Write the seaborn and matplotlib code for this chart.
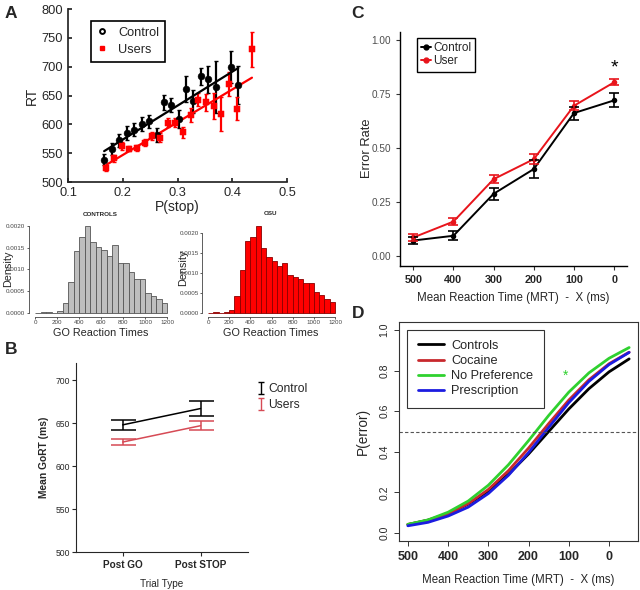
import numpy as np
import pandas as pd
import seaborn as sns
import matplotlib.pyplot as plt
from matplotlib.lines import Line2D

sns.set_theme(style="ticks")
plt.rcParams['font.family'] = ['Liberation Sans', 'DejaVu Sans']

# ---------------- data ----------------
# A: RT vs P(stop)
ctrl_pstop = [0.166, 0.180, 0.194, 0.207, 0.221, 0.235, 0.248, 0.262, 0.275, 0.289,
              0.302, 0.316, 0.329, 0.343, 0.356, 0.370, 0.397, 0.411]
ctrl_rt = [539, 557, 572, 585, 591, 601, 605, 582, 638, 633, 609, 661, 640, 683, 678, 664, 700, 669]
ctrl_err = [9, 10, 11, 12, 12, 12, 12, 12, 13, 12, 15, 22, 20, 15, 24, 45, 28, 33]
users_pstop = [0.170, 0.184, 0.198, 0.212, 0.226, 0.240, 0.254, 0.268, 0.282, 0.296,
               0.310, 0.324, 0.338, 0.352, 0.366, 0.380, 0.394, 0.408, 0.436]
users_rt = [524, 541, 562, 558, 559, 568, 579, 577, 603, 603, 586, 616, 643, 638, 632, 618, 670, 627, 730]
users_err = [5, 6, 7, 5, 5, 6, 7, 8, 8, 8, 10, 12, 12, 15, 23, 29, 20, 20, 30]

# A: GO RT histograms (density per 50 ms bin, 0..1200)
bin_edges = list(range(0, 1250, 50))
controls_density = [0, 0.00003, 0.00003, 0.00001, 0.00005, 0.00022, 0.00072, 0.00142,
                    0.00175, 0.00201, 0.00162, 0.00152, 0.00144, 0.00132, 0.00156, 0.00114,
                    0.00114, 0.00095, 0.00079, 0.00079, 0.00046, 0.00038, 0.00032, 0.00023]
osu_density = [0, 0.00002, 0.00001, 0.00002, 0.00008, 0.00043, 0.00108, 0.00179,
               0.00190, 0.00218, 0.00162, 0.00139, 0.00129, 0.00118, 0.00126, 0.00095,
               0.00091, 0.00084, 0.00076, 0.00076, 0.00053, 0.00045, 0.00036, 0.00028]

# B: mean GoRT
trial_types = ['Post GO', 'Post STOP']
b_control = [648, 667]
b_control_err = [5.5, 9]
b_users = [628, 647]
b_users_err = [3.5, 5]

# C: error rate
mrt_labels = ['500', '400', '300', '200', '100', '0']
c_control = [0.070, 0.092, 0.287, 0.402, 0.662, 0.721]
c_control_err = [0.015, 0.020, 0.028, 0.040, 0.030, 0.032]
c_user = [0.084, 0.158, 0.355, 0.448, 0.696, 0.805]
c_user_err = [0.015, 0.017, 0.020, 0.022, 0.020, 0.014]

# D: fitted P(error) curves
d_mrt = [500, 450, 400, 350, 300, 250, 200, 150, 100, 50, 0, -50]
d_controls = [0.041, 0.063, 0.095, 0.142, 0.206, 0.289, 0.389, 0.500, 0.611, 0.711, 0.794, 0.858]
d_cocaine = [0.042, 0.062, 0.094, 0.144, 0.214, 0.307, 0.418, 0.539, 0.655, 0.755, 0.834, 0.891]
d_nopref = [0.042, 0.064, 0.102, 0.157, 0.235, 0.336, 0.455, 0.579, 0.694, 0.789, 0.861, 0.914]
d_prescr = [0.035, 0.052, 0.083, 0.127, 0.194, 0.284, 0.396, 0.520, 0.642, 0.747, 0.830, 0.890]

W, H = 640, 590
fig = plt.figure(figsize=(6.4, 5.9), dpi=100)


def box(l, t, r, b):
    return [l / W, 1 - b / H, (r - l) / W, (b - t) / H]


# ---------------- A: scatter ----------------
ax = fig.add_axes(box(68, 9, 287, 182))
ax.errorbar(ctrl_pstop, ctrl_rt, yerr=ctrl_err, fmt='none', ecolor='black', elinewidth=1.6, capsize=1.5)
ax.errorbar(users_pstop, users_rt, yerr=users_err, fmt='none', ecolor='red', elinewidth=1.6, capsize=1.5)
sns.regplot(x=ctrl_pstop, y=ctrl_rt, scatter=False, ci=None, truncate=True, ax=ax,
            line_kws=dict(color='black', lw=1.6))
sns.regplot(x=users_pstop, y=users_rt, scatter=False, ci=None, truncate=True, ax=ax,
            line_kws=dict(color='red', lw=1.6))
sns.scatterplot(x=ctrl_pstop, y=ctrl_rt, color='black', marker='o', s=24, edgecolor='black', ax=ax, zorder=5)
sns.scatterplot(x=users_pstop, y=users_rt, color='red', marker='s', s=20, edgecolor='red', ax=ax, zorder=5)
ax.set_xlim(0.1, 0.5)
ax.set_ylim(500, 800)
ax.set_xticks([0.1, 0.2, 0.3, 0.4, 0.5])
ax.set_yticks(range(500, 801, 50))
ax.tick_params(direction='in', labelsize=9.3, length=3)
sns.despine(ax=ax)
ax.set_ylabel('RT', fontsize=10, labelpad=2)
ax.set_xlabel('P(stop)', fontsize=10, labelpad=1)
handles = [Line2D([], [], color='black', marker='o', mfc='none', ls='none', ms=3.5, mew=1.4),
           Line2D([], [], color='red', marker='s', ls='none', ms=3.5)]
ax.legend(handles, ['Control', 'Users'], loc='upper left', bbox_to_anchor=(0.105, 0.93),
          fontsize=9.2, frameon=True, fancybox=False, edgecolor='black', framealpha=1,
          handlelength=0.8, handletextpad=0.9, borderpad=0.45, labelspacing=0.4, borderaxespad=0)
ax.get_legend().get_frame().set_linewidth(1.2)


def go_hist(rect, density, fill, edge, title, top, label_x):
    hx = fig.add_axes(rect)
    centers = [e + 25 for e in bin_edges[:-1]]
    sns.histplot(x=centers, weights=density, bins=bin_edges, stat='count', color=fill,
                 edgecolor=edge, linewidth=0.6, alpha=1, ax=hx)
    hx.set_xlim(-40, 1230)
    hx.set_ylim(-0.00005, top)
    hx.set_xticks(range(0, 1201, 200))
    hx.set_yticks([0, 0.0005, 0.0010, 0.0015, 0.0020])
    hx.set_yticklabels(['0.0000', '0.0005', '0.0010', '0.0015', '0.0020'], rotation=90, va='center')
    hx.tick_params(labelsize=4.5, length=1.5, width=0.6, pad=0.8, colors='#444444')
    for s in ['top', 'right']:
        hx.spines[s].set_visible(False)
    hx.spines['left'].set_bounds(0, 0.0020)
    hx.spines['bottom'].set_bounds(0, 1200)
    hx.spines['left'].set_position(('outward', 1.5))
    hx.spines['bottom'].set_position(('outward', 1.5))
    for s in ['left', 'bottom']:
        hx.spines[s].set_linewidth(0.6)
        hx.spines[s].set_color('#444444')
    hx.set_title(title, fontsize=4.5, fontweight='bold', pad=4)
    hx.set_xlabel('GO Reaction Times', fontsize=7.8, labelpad=2)
    hx.set_ylabel('Density', fontsize=7.8)
    hx.yaxis.set_label_coords((label_x - rect[0] * W) / (rect[2] * W), 0.5)
    return hx


go_hist(box(30.6, 221.6, 170.3, 315.2), controls_density, '#bebebe', '#555555', 'CONTROLS', 0.00210, 13)
go_hist(box(203.8, 221, 338.2, 315), osu_density, '#ff0000', '#8b0000', 'OSU', 0.00230, 188)

# ---------------- B ----------------
bx = fig.add_axes(box(76, 363, 248, 552))
dfb = pd.DataFrame({'trial': [0, 1, 0, 1], 'rt': b_control + b_users,
                    'group': ['Control'] * 2 + ['Users'] * 2})
users_col = '#d64a55'
sns.lineplot(data=dfb, x='trial', y='rt', hue='group', palette=['black', users_col],
             legend=False, lw=1.1, ax=bx)
bx.errorbar([0, 1], b_control, yerr=b_control_err, fmt='none', ecolor='black', elinewidth=1.1,
            capsize=9, capthick=1.1)
bx.errorbar([0, 1], b_users, yerr=b_users_err, fmt='none', ecolor=users_col, elinewidth=1.1,
            capsize=9, capthick=1.1)
bx.set_xlim(-0.6, 1.61)
bx.set_ylim(500, 720)
bx.set_yticks(range(500, 701, 50))
bx.set_xticks([0, 1])
bx.set_xticklabels(trial_types, fontweight='bold', fontsize=7.2)
bx.tick_params(axis='y', labelsize=6.2, length=3, width=0.8, pad=1)
bx.tick_params(axis='x', length=3, width=0.8, pad=3)
sns.despine(ax=bx)
for s in ['left', 'bottom']:
    bx.spines[s].set_linewidth(0.8)
bx.set_ylabel('Mean GoRT (ms)', fontsize=7.4, fontweight='bold', labelpad=5)
bx.set_xlabel('Trial Type', fontsize=7.2, labelpad=6)
hb1 = bx.errorbar([np.nan], [np.nan], yerr=[1], fmt='none', ecolor='black', capsize=2.5, elinewidth=1)
hb2 = bx.errorbar([np.nan], [np.nan], yerr=[1], fmt='none', ecolor=users_col, capsize=2.5, elinewidth=1)
bx.legend([hb1, hb2], ['Control', 'Users'], loc='upper left', bbox_to_anchor=(251 / W, 1 - 377 / H),
          bbox_transform=fig.transFigure, frameon=False, fontsize=8.7, handlelength=0.6,
          handletextpad=0.35, labelspacing=0.35, borderpad=0)

# ---------------- C ----------------
cx = fig.add_axes(box(400, 31.7, 627, 265.7))
pos = list(range(len(mrt_labels)))
dfc = pd.DataFrame({'pos': pos * 2, 'rate': c_control + c_user,
                    'group': ['Control'] * 6 + ['User'] * 6})
sns.lineplot(data=dfc, x='pos', y='rate', hue='group', palette=['black', '#e8141b'],
             legend=False, ax=cx, lw=1.4, marker='o', markersize=4, markeredgewidth=0)
cx.errorbar(pos, c_control, yerr=c_control_err, fmt='none', ecolor='black', elinewidth=1.2,
            capsize=3.5, capthick=1.2)
cx.errorbar(pos, c_user, yerr=c_user_err, fmt='none', ecolor='#e8141b', elinewidth=1.2,
            capsize=3.5, capthick=1.2)
cx.set_xlim(-0.33, 5.32)
cx.set_ylim(-0.047, 1.04)
cx.set_yticks([0, 0.25, 0.5, 0.75, 1.0])
cx.set_yticklabels(['0.00', '0.25', '0.50', '0.75', '1.00'])
cx.set_xticks(pos)
cx.set_xticklabels(mrt_labels, fontweight='bold')
cx.tick_params(axis='y', labelsize=7.2, labelcolor='#4d4d4d', length=3, width=0.8, color='#333333')
cx.tick_params(axis='x', labelsize=7.8, length=3, width=0.8, color='#333333')
sns.despine(ax=cx)
for s in ['left', 'bottom']:
    cx.spines[s].set_linewidth(1.0)
    cx.spines[s].set_color('black')
cx.set_ylabel('Error Rate', fontsize=9.3)
cx.yaxis.set_label_coords((373 - 400) / 227, 0.5)
cx.set_xlabel('Mean Reaction Time (MRT)  -  X (ms)', fontsize=8.3, labelpad=5)
cx.text(5, 0.87, '*', fontsize=14, ha='center', va='center', color='black')
hc = [Line2D([], [], color='black', marker='o', ms=3.5, lw=1.4),
      Line2D([], [], color='#e8141b', marker='o', ms=3.5, lw=1.4)]
cx.legend(hc, ['Control', 'User'], loc='upper left', bbox_to_anchor=(0.075, 0.975), fontsize=8.5,
          frameon=True, fancybox=False, edgecolor='black', framealpha=1, handlelength=0.8,
          handletextpad=0.2, borderpad=0.35, labelspacing=0.15, borderaxespad=0)
cx.get_legend().get_frame().set_linewidth(1.0)

# ---------------- D ----------------
dx = fig.add_axes(box(399, 322, 638, 541))
dfd = pd.DataFrame({'mrt': d_mrt * 4,
                    'p': d_controls + d_cocaine + d_nopref + d_prescr,
                    'group': ['Controls'] * 12 + ['Cocaine'] * 12 + ['No Preference'] * 12 + ['Prescription'] * 12})
d_colors = ['black', '#c8282d', '#2fd12f', '#1c1ce0']
sns.lineplot(data=dfd, x='mrt', y='p', hue='group', palette=d_colors, lw=2.0, ax=dx)
dx.axhline(0.5, color='#555555', lw=0.8, ls=(0, (3, 2)))
dx.set_xlim(522, -72)
dx.set_ylim(-0.04, 1.04)
dx.set_xticks([500, 400, 300, 200, 100, 0])
dx.set_xticklabels(['500', '400', '300', '200', '100', '0'], fontweight='bold')
dx.set_yticks([0, 0.2, 0.4, 0.6, 0.8, 1.0])
dx.set_yticklabels(['0.0', '0.2', '0.4', '0.6', '0.8', '1.0'], rotation=90, va='center')
dx.tick_params(axis='y', labelsize=7.5, length=3.5, width=0.7, color='#333333')
dx.tick_params(axis='x', labelsize=9, length=3.5, width=0.7, color='#333333')
for s in dx.spines.values():
    s.set_linewidth(0.8)
    s.set_color('#333333')
dx.set_ylabel('P(error)', fontsize=9.8, labelpad=7)
dx.set_xlabel('Mean Reaction Time (MRT)  -  X (ms)', fontsize=8.3, labelpad=8)
dx.text(108, 0.775, '*', fontsize=10, color='#2fd12f', ha='center', va='center')
leg = dx.legend(loc='upper left', bbox_to_anchor=(0.035, 0.965), fontsize=9.2, frameon=True,
                fancybox=False, edgecolor='#333333', framealpha=1, handlelength=2.1,
                handletextpad=0.55, borderpad=0.8, labelspacing=0.25, borderaxespad=0)
leg.set_title(None)
leg.get_frame().set_linewidth(0.8)

# panel letters
for letter, (px, py) in {'A': (11, 13), 'B': (11, 349), 'C': (358, 13), 'D': (358, 313)}.items():
    fig.text(px / W, 1 - py / H, letter, fontsize=12.5, fontweight='bold', ha='center', va='center')

fig.savefig('out.png', dpi=100)
